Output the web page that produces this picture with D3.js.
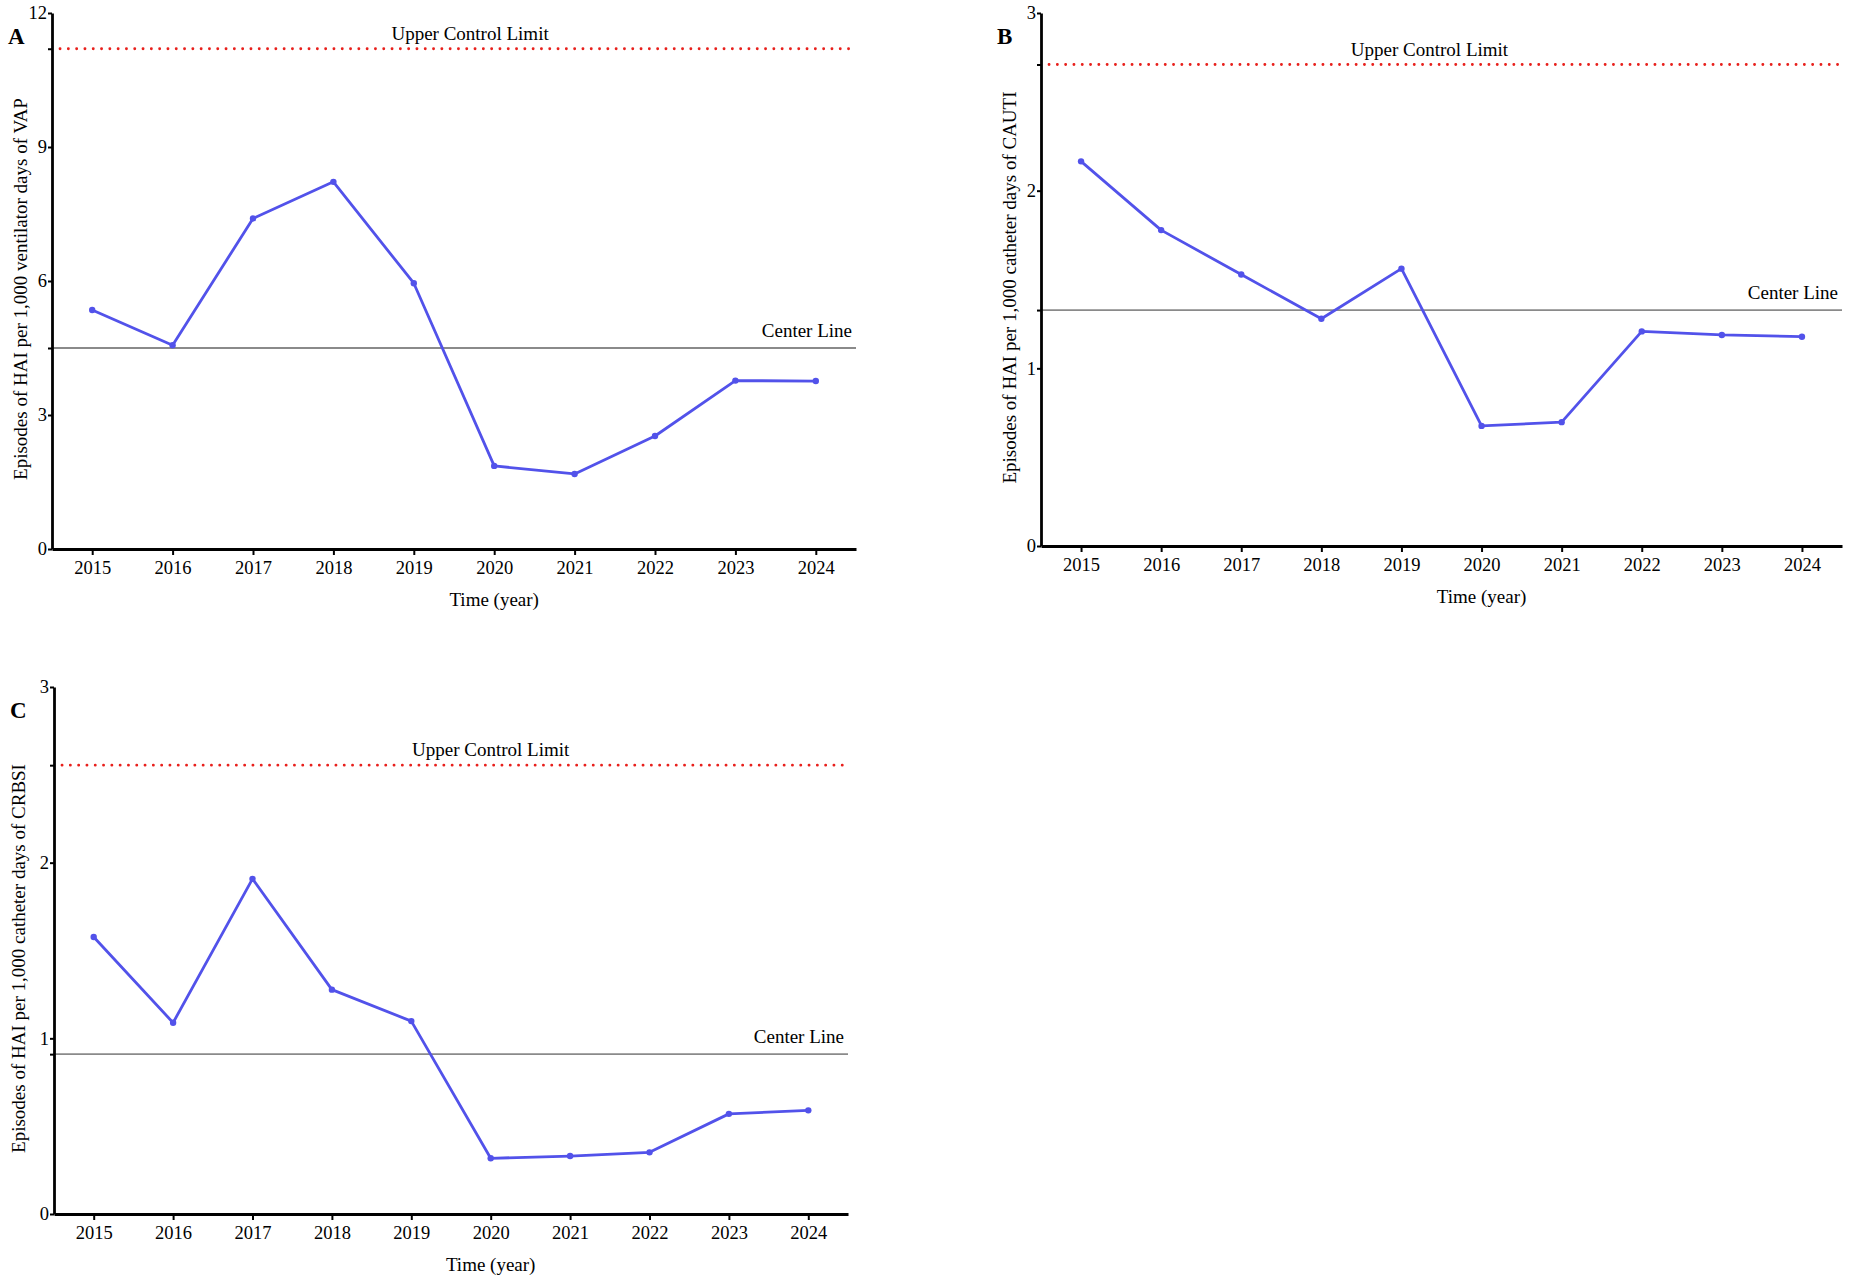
<!DOCTYPE html>
<html>
<head>
<meta charset="utf-8">
<script src="https://cdn.jsdelivr.net/npm/d3@7"></script>
<style>
  body { margin: 0; background: #fff; }
  svg { display: block; font-family: "Liberation Serif", "Times New Roman", serif; }
  .axis path, .axis line { stroke: #000; }
  .axis text { font-size: 18.5px; fill: #000; font-family: "Liberation Serif", serif; }
</style>
</head>
<body>
<svg id="chart" width="1850" height="1287"></svg>
<script>
// years on the x axis (same for all three panels)
const years = ["2015", "2016", "2017", "2018", "2019", "2020", "2021", "2022", "2023", "2024"];

// A: VAP
const vapRates = [5.35, 4.56, 7.40, 8.22, 5.95, 1.86, 1.68, 2.53, 3.77, 3.76];
const vapCenter = 4.5;
const vapUpper = 11.2;
const vapTicks = [0, 3, 6, 9, 12];

// B: CAUTI
const cautiRates = [2.165, 1.778, 1.528, 1.279, 1.561, 0.676, 0.697, 1.208, 1.188, 1.178];
const cautiCenter = 1.328;
const cautiUpper = 2.71;
const cautiTicks = [0, 1, 2, 3];

// C: CRBSI
const crbsiRates = [1.577, 1.089, 1.908, 1.277, 1.098, 0.317, 0.330, 0.351, 0.570, 0.590];
const crbsiCenter = 0.91;
const crbsiUpper = 2.555;
const crbsiTicks = [0, 1, 2, 3];

const panels = [
  { letter: "A", values: vapRates, center: vapCenter, upper: vapUpper, ticks: vapTicks,
    ylabel: "Episodes of HAI per 1,000 ventilator days of VAP",
    box: { left: 52, right: 856, top: 13, bottom: 549 }, uclAt: 0.52, ylabelX: 27 },
  { letter: "B", values: cautiRates, center: cautiCenter, upper: cautiUpper, ticks: cautiTicks,
    ylabel: "Episodes of HAI per 1,000 catheter days of CAUTI",
    box: { left: 1041, right: 1842, top: 13, bottom: 546 }, uclAt: 0.485, ylabelX: 1016 },
  { letter: "C", values: crbsiRates, center: crbsiCenter, upper: crbsiUpper, ticks: crbsiTicks,
    ylabel: "Episodes of HAI per 1,000 catheter days of CRBSI",
    box: { left: 54, right: 848, top: 687, bottom: 1214 }, uclAt: 0.55, ylabelX: 25 }
];

const svg = d3.select("#chart");

function drawPanel(p) {
  const { left, right, top, bottom } = p.box;
  const g = svg.append("g");
  const yMax = d3.max(p.ticks);

  const x = d3.scalePoint().domain(years).range([left, right]).padding(0.5);
  const y = d3.scaleLinear().domain([0, yMax]).range([bottom, top]);

  // control lines
  g.append("line")
    .attr("x1", left).attr("x2", right)
    .attr("y1", y(p.center)).attr("y2", y(p.center))
    .attr("stroke", "#8a8a8a").attr("stroke-width", 1.8);

  g.append("line")
    .attr("x1", left + 8).attr("x2", right)
    .attr("y1", y(p.upper)).attr("y2", y(p.upper))
    .attr("stroke", "#e8201c").attr("stroke-width", 2.8)
    .attr("stroke-linecap", "round")
    .attr("stroke-dasharray", "0.1,8.2");

  g.append("text")
    .attr("x", left + (right - left) * p.uclAt)
    .attr("y", y(p.upper) - 9)
    .attr("text-anchor", "middle")
    .attr("font-size", 19)
    .text("Upper Control Limit");

  g.append("text")
    .attr("x", right - 4)
    .attr("y", y(p.center) - 11)
    .attr("text-anchor", "end")
    .attr("font-size", 19)
    .text("Center Line");

  // series
  const line = d3.line().x((d, i) => x(years[i])).y(d => y(d));
  g.append("path")
    .datum(p.values)
    .attr("fill", "none")
    .attr("stroke", "#5252ea")
    .attr("stroke-width", 2.8)
    .attr("stroke-linejoin", "round")
    .attr("d", line);

  g.selectAll(".pt")
    .data(p.values)
    .join("circle")
    .attr("class", "pt")
    .attr("cx", (d, i) => x(years[i]))
    .attr("cy", d => y(d))
    .attr("r", 3.2)
    .attr("fill", "#5252ea");

  // axes
  const yAxis = d3.axisLeft(y)
    .tickValues(p.ticks.concat([p.center, p.upper]))
    .tickFormat(d => (p.ticks.includes(d) ? d : ""))
    .tickSize(4)
    .tickPadding(1)
    .tickSizeOuter(0);

  const ya = g.append("g")
    .attr("class", "axis")
    .attr("transform", `translate(${left},0)`)
    .call(yAxis);
  ya.select(".domain").attr("stroke-width", 2.8);
  ya.selectAll(".tick line").attr("stroke-width", 2);

  const xAxis = d3.axisBottom(x).tickSize(6).tickPadding(6).tickSizeOuter(0);
  const xa = g.append("g")
    .attr("class", "axis")
    .attr("transform", `translate(0,${bottom})`)
    .call(xAxis);
  xa.select(".domain").attr("stroke-width", 3.2);
  xa.selectAll(".tick line").attr("stroke-width", 2);

  // labels
  g.append("text")
    .attr("x", left + (right - left) * 0.55)
    .attr("y", bottom + 57)
    .attr("text-anchor", "middle")
    .attr("font-size", 19)
    .text("Time (year)");

  g.append("text")
    .attr("transform", `translate(${p.ylabelX},${(top + bottom) / 2 + 8}) rotate(-90)`)
    .attr("text-anchor", "middle")
    .attr("font-size", 19)
    .text(p.ylabel);

  g.append("text")
    .attr("x", left - 44)
    .attr("y", top + 31)
    .attr("font-size", 23)
    .attr("font-weight", "bold")
    .text(p.letter);
}

panels.forEach(drawPanel);
</script>
</body>
</html>
